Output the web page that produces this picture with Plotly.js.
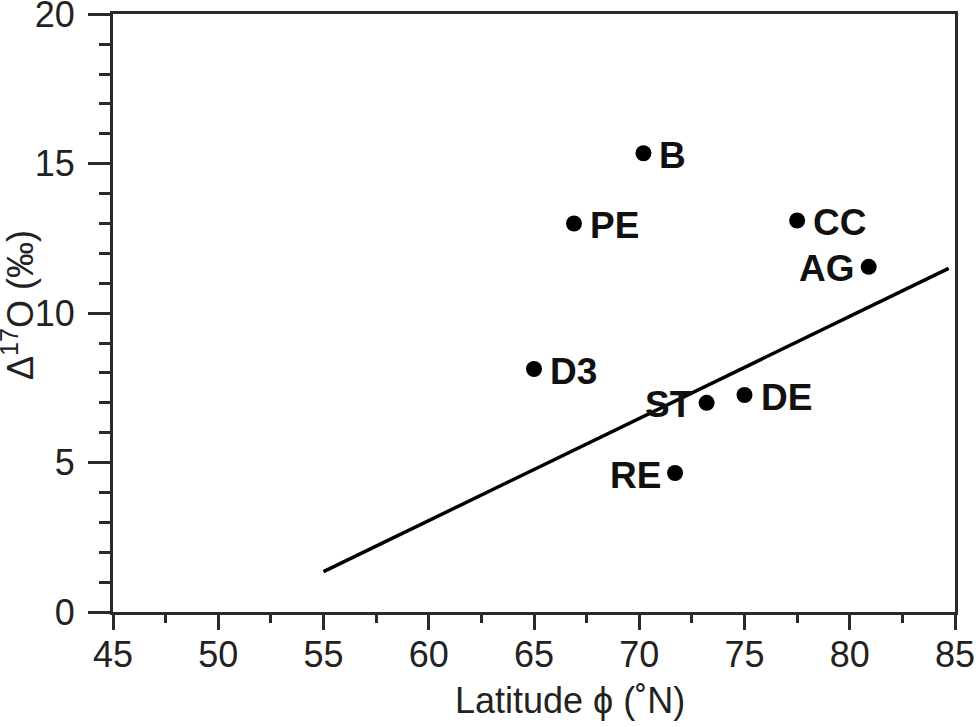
<!DOCTYPE html>
<html>
<head>
<meta charset="utf-8">
<script src="https://cdn.plot.ly/plotly-3.0.1.min.js"></script>
<style>
  html, body { margin: 0; padding: 0; background: #fff; }
  #chart { width: 980px; height: 727px; }
</style>
</head>
<body>
<div id="chart"></div>
<script>
const SITE_NAMES = ["B", "PE", "CC", "AG", "D3", "ST", "DE", "RE"];
const SITE_LAT = [70.2, 66.9, 77.5, 80.9, 65.0, 73.2, 75.0, 71.7];
const SITE_D17O = [15.35, 13.0, 13.1, 11.55, 8.13, 7.0, 7.26, 4.65];
// which side of the dot each label sits on
const LABEL_SIDE = ["right", "right", "right", "left", "right", "left", "right", "left"];

const FIT_LAT = [55, 84.7];
const FIT_D17O = [1.35, 11.5];

const Y_TICKS = [0, 5, 10, 15, 20];

const FONT = "Liberation Sans, Arial, sans-serif";
const AXIS_COLOR = "#2a2a2a";

const traces = [
    {
        x: FIT_LAT, y: FIT_D17O,
        mode: "lines", type: "scatter",
        line: { color: "#000", width: 3.5 },
        hoverinfo: "skip", showlegend: false,
    },
    {
        x: SITE_LAT, y: SITE_D17O,
        mode: "markers", type: "scatter",
        marker: { color: "#000", size: 16, line: { width: 0 } },
        showlegend: false,
    },
];

const labels = SITE_NAMES.map((name, i) => ({
    x: SITE_LAT[i], y: SITE_D17O[i],
    xref: "x", yref: "y",
    text: "<b>" + name + "</b>",
    showarrow: false,
    xanchor: LABEL_SIDE[i] === "right" ? "left" : "right",
    xshift: LABEL_SIDE[i] === "right" ? 14 : -12,
    yshift: -2,
    font: { family: FONT, size: 37, color: "#111" },
}));

const titles = [
    {
        xref: "paper", yref: "paper",
        x: 0.543, y: 0, yshift: -66,
        xanchor: "center", yanchor: "top",
        text: "Latitude \u03d5 (\u02daN)",
        showarrow: false,
        font: { family: FONT, size: 36, color: "#222" },
    },
    {
        xref: "paper", yref: "paper",
        x: 0, xshift: -95, y: 0.5, yshift: 8,
        xanchor: "center", yanchor: "middle",
        textangle: -90,
        text: "\u0394<sup>17</sup>O (\u2030)",
        showarrow: false,
        font: { family: FONT, size: 36, color: "#222" },
    },
];

const layout = {
    width: 980, height: 727,
    margin: { l: 113, r: 25, t: 14, b: 115 },
    paper_bgcolor: "#fff",
    plot_bgcolor: "#fff",
    font: { family: FONT, size: 36, color: "#222" },
    xaxis: {
        range: [45, 85],
        tick0: 45, dtick: 5,
        showgrid: false, zeroline: false,
        showline: true, mirror: true,
        linecolor: AXIS_COLOR, linewidth: 3,
        ticks: "outside", ticklen: 15, tickwidth: 3, tickcolor: AXIS_COLOR,
        minor: { dtick: 2.5, ticks: "outside", ticklen: 8, tickwidth: 3, tickcolor: AXIS_COLOR, showgrid: false },
        tickfont: { family: FONT, size: 36, color: "#222" },
        ticklabelstandoff: -6,
        ticklabeloverflow: "allow",
    },
    yaxis: {
        range: [0, 20.01],
        tickmode: "array", tickvals: Y_TICKS,
        showgrid: false, zeroline: false,
        showline: true, mirror: true,
        linecolor: AXIS_COLOR, linewidth: 3,
        ticks: "outside", ticklen: 22, tickwidth: 3, tickcolor: AXIS_COLOR,
        minor: { dtick: 1, ticks: "outside", ticklen: 11, tickwidth: 3, tickcolor: AXIS_COLOR, showgrid: false },
        tickfont: { family: FONT, size: 36, color: "#222" },
        ticklabelstandoff: 6,
        ticklabeloverflow: "allow",
    },
    annotations: labels.concat(titles),
};

Plotly.newPlot("chart", traces, layout, { displayModeBar: false, responsive: false });
</script>
</body>
</html>
